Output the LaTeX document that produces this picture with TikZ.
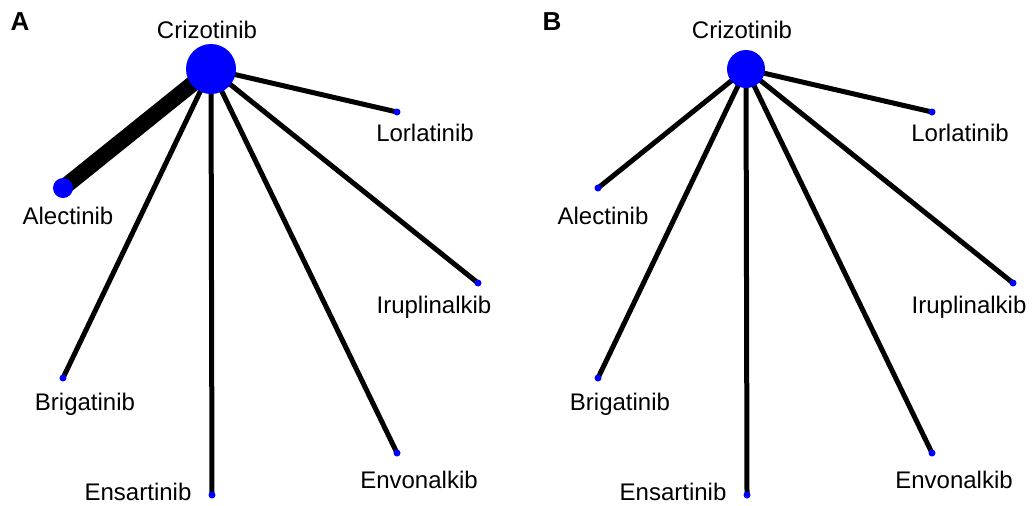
\documentclass[tikz,border=0pt]{standalone}
\usepackage{fontspec}
\setmainfont{Liberation Sans}
\definecolor{netblue}{RGB}{0,0,255}
\begin{document}
\begin{tikzpicture}[x=0.5pt, y=-0.5pt, line cap=round, line join=round,
    edge/.style={line width=2.5pt, black},
    wideedge/.style={line width=8pt, black},
    drug/.style={font=\fontsize{12}{14}\selectfont, inner sep=0pt},
    panel/.style={font=\fontsize{13}{15}\selectfont\bfseries, inner sep=0pt}]

                \useasboundingbox (0,0) rectangle (1032,505);

                % A: network of all trials
                \coordinate (aCri) at (211,69);
                \coordinate (aAle) at (63,188);
                \coordinate (aLor) at (397,112);
                \coordinate (aIru) at (478,283);
                \coordinate (aEnv) at (397,453);
                \coordinate (aEns) at (212,495);
                \coordinate (aBri) at (63,378);

                \draw[wideedge] (aCri) -- (aAle);
                \draw[edge] (aCri) -- (aLor);
                \draw[edge] (aCri) -- (aIru);
                \draw[edge] (aCri) -- (aEnv);
                \draw[edge] (aCri) -- (aEns);
                \draw[edge] (aCri) -- (aBri);

                \fill[netblue] (aCri) circle (25);
                \fill[netblue] (aAle) circle (10);
                \foreach \d in {aLor, aIru, aEnv, aEns, aBri}
                    \fill[netblue] (\d) circle (3.5);

                \node[panel] (aTag) at (20,22) {A};
                \node[drug] (aCriLab) at (207,30) {Crizotinib};
                \node[drug] (aAleLab) at (68,216) {Alectinib};
                \node[drug] (aLorLab) at (425,133) {Lorlatinib};
                \node[drug] (aIruLab) at (434,307) {Iruplinalkib};
                \node[drug] (aEnvLab) at (419,480) {Envonalkib};
                \node[drug] (aEnsLab) at (138,492) {Ensartinib};
                \node[drug] (aBriLab) at (85,404) {Brigatinib};

                % B: same network, equal weights
                \begin{scope}[xshift=535*0.5pt]
                \coordinate (bCri) at (211,69);
                \coordinate (bAle) at (63,188);
                \coordinate (bLor) at (397,112);
                \coordinate (bIru) at (478,283);
                \coordinate (bEnv) at (397,453);
                \coordinate (bEns) at (212,495);
                \coordinate (bBri) at (63,378);

                \foreach \d in {bAle, bLor, bIru, bEnv, bEns, bBri}
                    \draw[edge] (bCri) -- (\d);

                \fill[netblue] (bCri) circle (19);
                \foreach \d in {bAle, bLor, bIru, bEnv, bEns, bBri}
                    \fill[netblue] (\d) circle (3.5);

                \node[panel] (bTag) at (17,22) {B};
                \node[drug] (bCriLab) at (207,30) {Crizotinib};
                \node[drug] (bAleLab) at (68,216) {Alectinib};
                \node[drug] (bLorLab) at (425,133) {Lorlatinib};
                \node[drug] (bIruLab) at (434,307) {Iruplinalkib};
                \node[drug] (bEnvLab) at (419,480) {Envonalkib};
                \node[drug] (bEnsLab) at (138,492) {Ensartinib};
                \node[drug] (bBriLab) at (85,404) {Brigatinib};
                \end{scope}

\end{tikzpicture}
\end{document}
